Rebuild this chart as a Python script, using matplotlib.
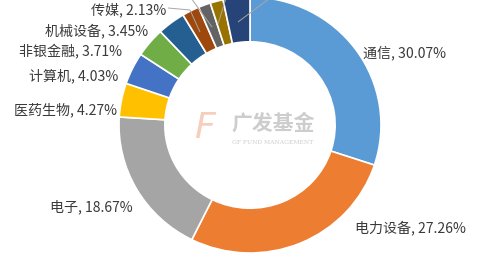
import matplotlib
matplotlib.use("Agg")
import matplotlib.pyplot as plt

plt.rcParams['font.family'] = ['Noto Sans CJK SC', 'DejaVu Sans']

# ---- data ----
categories = ["通信", "电力设备", "电子", "医药生物", "计算机", "非银金融",
              "机械设备", "传媒", "", "", ""]
values = [30.07, 27.26, 18.67, 4.27, 4.03, 3.71, 3.45, 2.13, 1.51, 1.60, 3.30]
colors = ["#5B9BD5", "#ED7D31", "#A5A5A5", "#FFC000", "#4472C4", "#70AD47",
          "#255E91", "#9E480E", "#636363", "#997300", "#264478"]

W, H = 500, 260
fig = plt.figure(figsize=(W / 100, H / 100), dpi=100)
ax = fig.add_axes([0, 0, 1, 1])

CX, CY, RX, RY = 250, 125, 131, 128


def px(x, y):
    return (x - CX) / RX, (CY - y) / RY


ax.pie(values, colors=colors, startangle=90, counterclock=False, radius=1,
       wedgeprops=dict(width=0.35, edgecolor="white", linewidth=1.2))
ax.set_aspect("auto")
ax.set_xlim(px(0, 0)[0], px(W, 0)[0])
ax.set_ylim(px(0, H)[1], px(0, 0)[1])
ax.axis("off")

# ---- labels (left/right anchor, center y in pixels) ----
label_pos = {
    "通信": (363, 53, "left"),
    "电力设备": (355, 228, "left"),
    "电子": (133, 207, "right"),
    "医药生物": (117, 110, "right"),
    "计算机": (118, 76, "right"),
    "非银金融": (122, 52, "right"),
    "机械设备": (148, 31, "right"),
    "传媒": (166, 10, "right"),
}
for cat, val in zip(categories, values):
    if cat in label_pos:
        x, y, ha = label_pos[cat]
        dx, dy = px(x, y)
        ax.text(dx, dy, f"{cat}, {val:.2f}%", ha=ha, va="center",
                fontsize=10.1, color="#3A3A3A")

# ---- leader lines for small slices ----
lc = "#A6A6A6"
leaders = [
    [(168, 8), (190, 10), (200, 32)],
    [(191, -2), (212, 27)],
    [(226, -2), (218, 24)],
    [(238, 22), (270, -2)],
]
for pts in leaders:
    xs, ys = zip(*[px(a, b) for a, b in pts])
    ax.plot(xs, ys, color=lc, lw=0.7, solid_capstyle="butt")

# ---- watermark ----
ax.text(*px(204, 128), "F", fontsize=26, fontstyle="italic",
        color="#F7CDBB", ha="center", va="center", family="DejaVu Sans")
ax.text(*px(273, 123), "广发基金", fontsize=15, fontweight="bold",
        color="#CDCDCD", ha="center", va="center")
ax.text(*px(273, 142), "GF FUND MANAGEMENT", fontsize=4.3,
        color="#CDCDCD", ha="center", va="center", family="DejaVu Serif")

fig.savefig("out.png", dpi=100)
